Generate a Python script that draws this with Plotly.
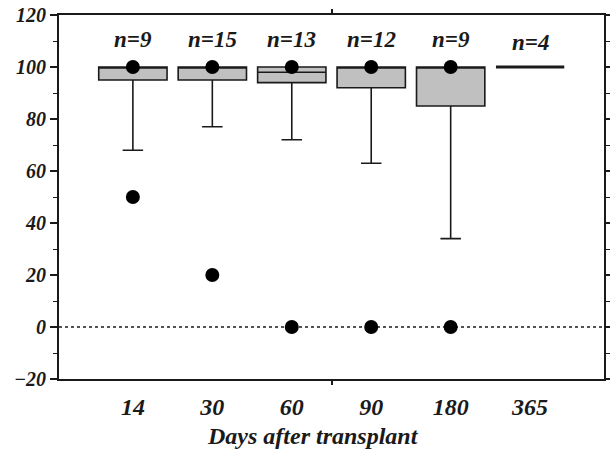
import plotly.graph_objects as go

# ---- data ----
categories = ["14", "30", "60", "90", "180", "365"]
n_labels = ["n=9", "n=15", "n=13", "n=12", "n=9", "n=4"]
q1 = [95, 95, 94, 92, 85, 100]
median = [100, 100, 98, 100, 100, 100]
q3 = [100, 100, 100, 100, 100, 100]
lower_whisker = [68, 77, 72, 63, 34, 100]
upper_whisker = [100, 100, 100, 100, 100, 100]
dot_x = ["14", "14", "30", "30", "60", "60", "90", "90", "180", "180"]
dot_y = [100, 50, 100, 20, 100, 0, 100, 0, 100, 0]

FONT = "Liberation Serif"
BLACK = "#1a1a1a"
GRAY = "#c0c0c0"

fig = go.Figure()

fig.add_trace(go.Box(
    x=categories[:5], q1=q1[:5], median=median[:5], q3=q3[:5],
    lowerfence=lower_whisker[:5], upperfence=upper_whisker[:5],
    fillcolor=GRAY, line=dict(color=BLACK, width=1.6),
    whiskerwidth=0.3, width=0.86, boxpoints=False, hoverinfo="skip",
    showlegend=False,
))
fig.add_trace(go.Box(
    x=categories[5:], q1=q1[5:], median=median[5:], q3=q3[5:],
    lowerfence=lower_whisker[5:], upperfence=upper_whisker[5:],
    fillcolor=GRAY, line=dict(color=BLACK, width=3),
    whiskerwidth=0.3, width=0.86, boxpoints=False, hoverinfo="skip",
    showlegend=False,
))
fig.add_trace(go.Scatter(
    x=dot_x, y=dot_y, mode="markers",
    marker=dict(size=14, color="black"), showlegend=False, hoverinfo="skip",
))
fig.add_trace(go.Scatter(x=[], y=[], xaxis="x2", showlegend=False))

for i, t in enumerate(n_labels):
    fig.add_annotation(
        x=i, y=110.7 if i < 5 else 109.6, text=t, showarrow=False,
        font=dict(family=FONT, size=23, color=BLACK, weight="bold", style="italic"),
        xanchor="center", yanchor="middle",
    )

fig.add_shape(type="line", xref="paper", x0=0, x1=1, yref="y", y0=0, y1=0,
              line=dict(color=BLACK, width=1.5, dash="dot"), layer="below")

fig.add_annotation(
    xref="paper", yref="paper", x=0.466, y=-0.115, text="Days after transplant",
    showarrow=False, xanchor="center", yanchor="top",
    font=dict(family=FONT, size=24, color=BLACK, weight="bold", style="italic"),
)

xr = [-0.93, 5.93]
fig.update_layout(
    width=610, height=450,
    margin=dict(l=59, r=6, t=15, b=71),
    paper_bgcolor="white", plot_bgcolor="white",
    boxmode="overlay",
    xaxis=dict(
        type="category", range=xr, showgrid=False, zeroline=False,
        showline=True, linecolor=BLACK, linewidth=2, mirror=True,
        ticks="outside", ticklen=5, tickcolor="rgba(0,0,0,0)", automargin=False,
        tickfont=dict(family=FONT, size=24, color=BLACK, weight="bold", style="italic"),
    ),
    xaxis2=dict(
        overlaying="x", anchor="y", range=xr, showgrid=False, zeroline=False,
        showline=False, tickvals=[2.5], ticktext=[""], ticks="outside",
        ticklen=5, tickwidth=2, tickcolor=BLACK, mirror="ticks", side="bottom",
        showticklabels=False, automargin=False,
    ),
    yaxis=dict(
        range=[-20, 120], dtick=20, tick0=0, showgrid=False, zeroline=False,
        showline=True, linecolor=BLACK, linewidth=2, mirror="ticks",
        ticks="outside", ticklen=7, tickwidth=1.6, tickcolor=BLACK, automargin=False,
        minor=dict(dtick=10, ticks="outside", ticklen=4, tickwidth=1.4, tickcolor=BLACK, showgrid=False),
        tickfont=dict(family=FONT, size=20, color=BLACK, weight="bold", style="italic"),
    ),
)

fig.write_html("out.html", config={"displayModeBar": False},
               post_script="document.body.style.margin='0';")
